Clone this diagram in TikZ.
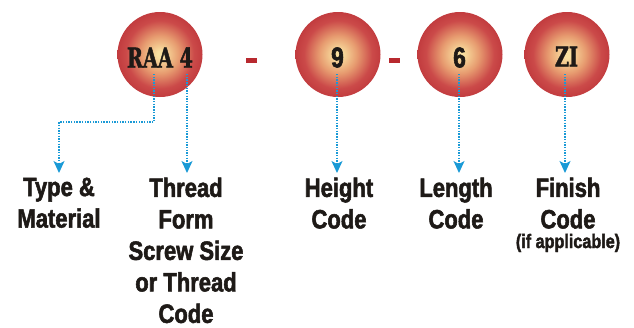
\documentclass[tikz,border=0pt]{standalone}
\usepackage{fontspec}
\usetikzlibrary{arrows.meta}
\newfontfamily\lblfont{Liberation Sans}[FakeStretch=0.83, FakeBold=2]
\newfontfamily\digfont{Liberation Sans}[FakeStretch=0.80, FakeBold=2]
\newfontfamily\slabfont{DejaVu Serif}[FakeStretch=0.70, FakeBold=1.5]
\definecolor{ballin}{HTML}{F9E0A0}
\definecolor{ballmid}{HTML}{E79C70}
\definecolor{ballred}{HTML}{CB4A49}
\definecolor{ballout}{HTML}{C23C3F}
\definecolor{dashred}{HTML}{B8292F}
\definecolor{arrowblue}{HTML}{1A9AD6}
\definecolor{ink}{HTML}{1E1A17}
\pgfdeclareradialshading{ballshade}{\pgfpoint{0bp}{0bp}}{color(0bp)=(ballin); color(2bp)=(ballin); color(11bp)=(ballmid); color(20bp)=(ballred); color(25bp)=(ballout); color(50bp)=(ballout)}
\tikzset{
  ball/.style={circle, minimum size=85pt, inner sep=0pt, shading=ballshade},
  slabtxt/.style={inner sep=0pt, text=ink, font=\slabfont\bfseries\fontsize{27.5}{27.5}\selectfont},
  digtxt/.style={inner sep=0pt, text=ink, font=\digfont\bfseries\fontsize{28.5}{28.5}\selectfont},
  lbl/.style={align=center, anchor=north, inner sep=0pt, text=ink,
    font=\lblfont\bfseries\fontsize{26.5}{31.5}\selectfont},
  conn/.style={draw=arrowblue, line width=1.3pt, dash pattern=on 1.4pt off 1.3pt, shorten >=4.5pt,
    -{Stealth[length=12pt, width=11pt, inset=3pt, fill=arrowblue]}},
  dashbar/.style={fill=dashred}
}
\begin{document}
\begin{tikzpicture}[x=1pt, y=-1pt]
\useasboundingbox (0,0) rectangle (634,327);
% balls
\node[ball] (raa) at (160,54.5) {};
\node[ball] (n9) at (338,54.5) {};
\node[ball] (n6) at (460,54.5) {};
\node[ball] (zi) at (567,54.5) {};
% ball texts
\node[slabtxt] (traa) at (160,57.5) {RAA 4};
\node[digtxt] (t9) at (337.5,57.5) {9};
\node[digtxt] (t6) at (459.5,57.5) {6};
\node[slabtxt] (tzi) at (566.5,56.5) {ZI};
% dashes between balls
\fill[dashbar] (246,58) rectangle (257,62.5);
\fill[dashbar] (389,58) rectangle (400,62.5);
% labels
\node[lbl] (tm) at (59,177.5) {Type \&\\Material};
\node[lbl] (tf) at (186,177.5) {Thread\\Form\\Screw Size\\or Thread\\Code};
\node[lbl] (hc) at (339,177.5) {Height\\Code};
\node[lbl] (lc) at (456,177.5) {Length\\Code};
\node[lbl] (fc) at (568,177.5) {Finish\\Code};
\node[anchor=base, inner sep=0pt, text=ink, font=\lblfont\bfseries\fontsize{19.5}{19.5}\selectfont] (ifa) at (568,248) {(if applicable)};
% connector start points
\coordinate (s1) at (154,74);
\coordinate (s2) at (187,74);
\coordinate (s3) at (337,74);
\coordinate (s4) at (459,74);
\coordinate (s5) at (565,74);
% connectors
\draw[conn] (s1) -- (154,122) -| (tm.north);
\draw[conn] (s2) -- (s2 |- tf.north);
\draw[conn] (s3) -- (s3 |- hc.north);
\draw[conn] (s4) -- (s4 |- lc.north);
\draw[conn] (s5) -- (s5 |- fc.north);
\end{tikzpicture}
\end{document}
